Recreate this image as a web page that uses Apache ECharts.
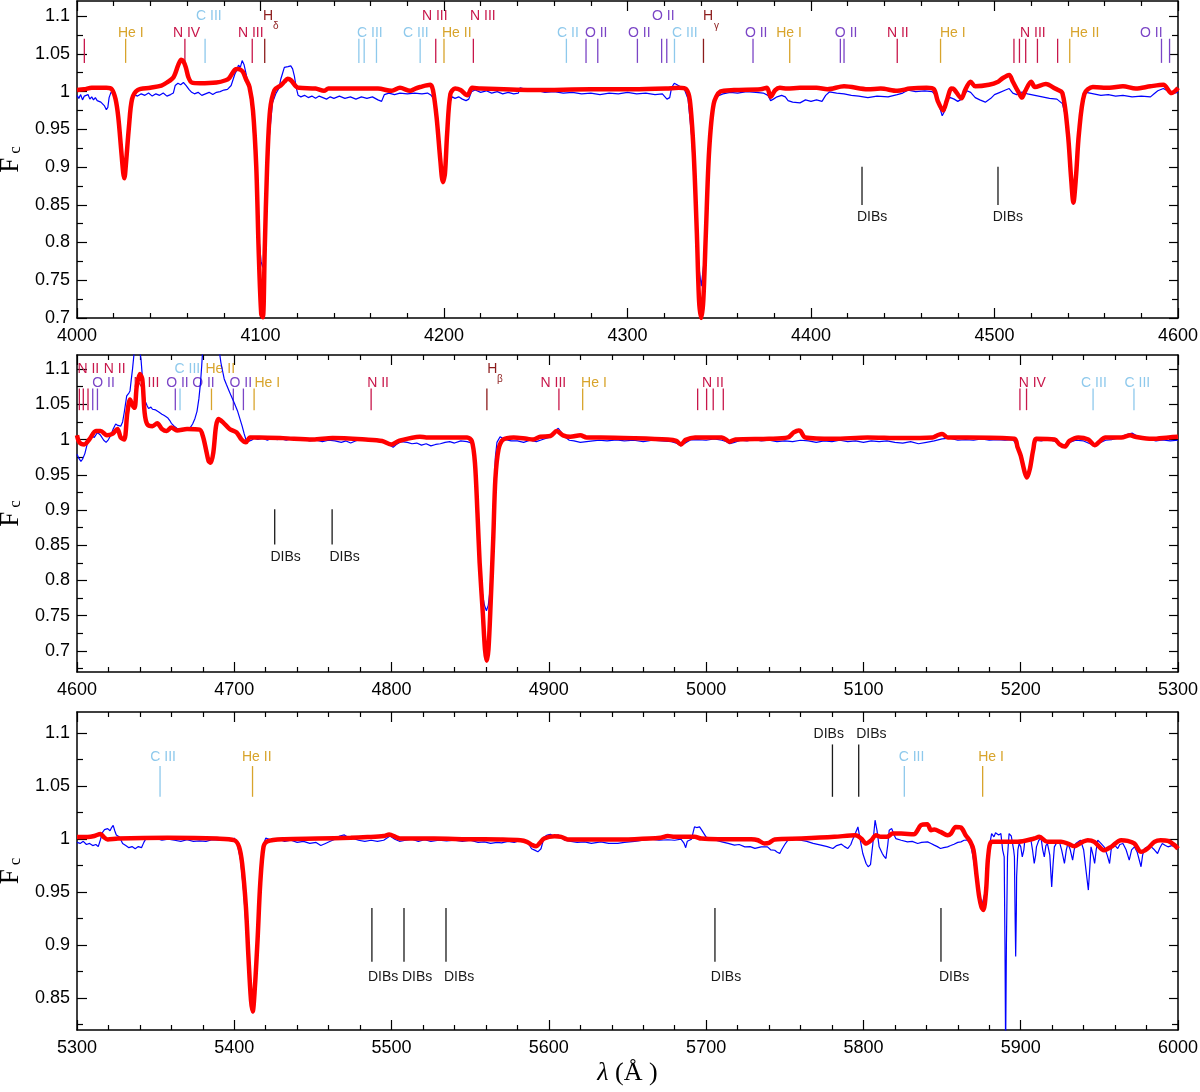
<!DOCTYPE html>
<html><head><meta charset="utf-8">
<style>html,body{margin:0;padding:0;background:#fff}#c{width:1200px;height:1092px}</style>
<script src="https://cdn.jsdelivr.net/npm/echarts/dist/echarts.min.js"></script>
</head><body><div id="c"></div>
<script>
// ---------- panel ranges ----------
const xRanges = [[4000,4600],[4600,5300],[5300,6000]];
const yRanges = [[0.70,1.12],[0.67,1.12],[0.82,1.12]];
const yMajor1 = [0.7,0.75,0.8,0.85,0.9,0.95,1,1.05,1.1];
const yMinor1 = [0.725,0.775,0.825,0.875,0.925,0.975,1.025,1.075];
const yMajor2 = [0.7,0.75,0.8,0.85,0.9,0.95,1,1.05,1.1];
const yMinor2 = [0.675,0.725,0.775,0.825,0.875,0.925,0.975,1.025,1.075];
const yMajor3 = [0.85,0.9,0.95,1,1.05,1.1];
const yMinor3 = [0.825,0.875,0.925,0.975,1.025,1.075];

// ---------- model (red) ----------
const model1 = [[4000,1.002],[4004,1.003],[4008,1.005],[4012,1.005],[4016,1.005],[4019,1.003],[4021,0.99],[4022.5,0.966],[4024,0.925],[4025.2,0.892],[4025.8,0.885],[4026.7,0.905],[4028.3,0.953],[4030,0.99],[4033,1.002],[4040,1.005],[4046,1.008],[4049,1.012],[4052.6,1.019],[4055.3,1.036],[4056.8,1.042],[4058,1.04],[4059.3,1.032],[4060.7,1.019],[4062.5,1.012],[4067,1.011],[4076,1.012],[4081,1.015],[4083,1.018],[4086,1.029],[4087.7,1.030],[4089,1.029],[4090.4,1.026],[4092,1.017],[4094,1.006],[4095.9,0.975],[4097.7,0.90],[4099,0.79],[4100.4,0.705],[4101.3,0.701],[4102.3,0.79],[4103.6,0.90],[4105.2,0.975],[4107.6,1.002],[4111,1.008],[4113,1.013],[4114.8,1.017],[4116.6,1.015],[4119.3,1.007],[4121,1.005],[4130,1.004],[4134.6,1.001],[4137,1.004],[4148,1.004],[4164,1.004],[4171.5,1.001],[4176,1.005],[4181.6,1.001],[4184.4,1.004],[4187,1.006],[4192.5,1.009],[4194,1.002],[4196,0.965],[4198,0.909],[4199.4,0.880],[4200.5,0.891],[4201.7,0.944],[4203.5,0.997],[4206,1.004],[4209,1.002],[4212.7,0.995],[4215.4,1.005],[4220,1.004],[4250,1.002],[4280,1.003],[4303,1.003],[4321,1.004],[4328,1.005],[4332,1.003],[4334,0.988],[4336,0.922],[4337.8,0.812],[4339,0.723],[4340.2,0.700],[4341.3,0.723],[4342.7,0.812],[4344.5,0.922],[4347,0.984],[4350.6,1.0],[4358,1.002],[4372.5,1.003],[4376,1.005],[4378,0.993],[4380.5,1.002],[4383,1.005],[4387,1.004],[4394,1.005],[4403,1.005],[4409,1.003],[4418,1.007],[4431,1.003],[4438,1.004],[4447,1.001],[4454,1.004],[4463,1.005],[4467,1.003],[4469,0.988],[4472,0.975],[4474,0.988],[4476.5,1.004],[4478,1.003],[4482,0.991],[4484,1.002],[4487,1.013],[4489.5,1.007],[4497,1.009],[4502,1.013],[4504,1.017],[4508,1.022],[4510,1.013],[4513,0.9995],[4515,0.992],[4516.5,0.9995],[4520,1.013],[4522,1.006],[4528,1.010],[4533,1.004],[4537,0.998],[4540,0.944],[4541.7,0.887],[4543,0.853],[4544.4,0.887],[4546,0.944],[4549,0.997],[4553.6,1.006],[4562.7,1.005],[4570,1.007],[4577,1.004],[4585,1.007],[4592,1.009],[4596.5,0.998],[4599,1.002],[4600,1.005]];

const model2 = [[4600,1.006],[4601.5,0.996],[4604.6,0.993],[4607.8,1.0],[4612,1.012],[4615,1.012],[4619,1.006],[4622.5,1.008],[4625.7,1.015],[4627.8,1.003],[4630,1.0],[4632,1.038],[4633.7,1.057],[4635,1.05],[4636.6,1.045],[4638,1.076],[4640,1.093],[4641.5,1.086],[4643,1.038],[4644.6,1.022],[4648,1.019],[4651,1.023],[4654,1.015],[4657,1.012],[4660,1.017],[4663.6,1.013],[4670,1.015],[4678,1.014],[4680,1.005],[4682,0.986],[4683.6,0.97],[4685,0.967],[4686.7,0.982],[4688.4,1.019],[4690,1.029],[4693,1.024],[4697,1.015],[4701.5,1.01],[4704.6,1.0],[4707.4,0.996],[4710,1.003],[4716,1.003],[4731,1.002],[4750,1.0],[4762.5,1.002],[4783.6,1.0],[4794,0.998],[4800,0.993],[4804.6,0.998],[4818,1.004],[4822,1.003],[4848,1.003],[4851,0.998],[4853,0.967],[4854.6,0.896],[4856,0.825],[4858,0.754],[4859.4,0.702],[4860.5,0.686],[4861.6,0.702],[4863,0.768],[4864.7,0.863],[4866,0.944],[4868,0.986],[4871,1.0],[4877.6,1.003],[4886,1.001],[4890,1.0],[4894.6,1.004],[4901,1.005],[4905,1.012],[4909,1.006],[4913.6,1.004],[4920,1.006],[4924,1.003],[4933,1.003],[4954,1.002],[4975.6,1.0],[4981,0.998],[4984,0.993],[4987,0.9995],[4993,1.003],[5010,1.003],[5015,0.997],[5018.6,1.0],[5040,1.001],[5052,1.003],[5055.7,1.01],[5058.8,1.013],[5060,1.012],[5063,1.003],[5081,1.001],[5102.6,1.003],[5123.8,1.002],[5144,1.003],[5147,1.006],[5150,1.008],[5153.6,1.003],[5166,1.003],[5196,1.001],[5198,0.989],[5200,0.977],[5202.6,0.953],[5204,0.946],[5205.8,0.958],[5208,0.986],[5210,1.001],[5221.6,1.0],[5224.8,0.993],[5228,0.990],[5231,0.998],[5236.6,1.003],[5243,1.0],[5247,0.992],[5250.5,0.998],[5253.6,1.003],[5264,1.003],[5269.6,1.006],[5272.8,1.004],[5283.4,1.001],[5294,1.003],[5300,1.004]];

const model3 = [[5300,1.002],[5306.8,1.002],[5311,1.003],[5315,1.005],[5317,1.002],[5319.5,0.9997],[5326,1.0006],[5357.6,1.0013],[5389,1.0006],[5400,0.999],[5403,0.993],[5405,0.977],[5407.4,0.936],[5409,0.889],[5410.6,0.8485],[5411.7,0.8375],[5413,0.858],[5414.8,0.905],[5416.5,0.958],[5418.6,0.993],[5421,0.998],[5431.8,1.0],[5453,1.0006],[5474,1.0013],[5484.7,1.002],[5495,1.003],[5498.5,1.0044],[5502.8,1.002],[5506,1.0006],[5527,1.0006],[5548.3,1.0],[5569.5,0.9997],[5582,0.999],[5586,0.9975],[5589.6,0.9944],[5592,0.9934],[5594,0.996],[5597,1.0006],[5603.6,1.0028],[5607.8,1.0022],[5612,0.9997],[5633,0.9997],[5654.5,1.0],[5671,1.0013],[5675.6,1.0031],[5680,1.0022],[5692.6,1.0022],[5697,1.0006],[5707.5,1.0],[5728.7,1.0],[5733,0.999],[5737,0.996],[5740,0.9965],[5743.6,0.9997],[5760.6,1.0006],[5781.6,1.0022],[5795,1.0038],[5798.6,1.0006],[5801.7,0.9959],[5805,0.9991],[5808,1.0038],[5811,1.0022],[5815,1.0022],[5818.6,1.0053],[5824,1.0053],[5832,1.0047],[5836.6,1.0132],[5840.6,1.0141],[5843,1.0085],[5845,1.0091],[5849,1.0069],[5853.5,1.0038],[5855.6,1.0053],[5858.7,1.0116],[5862,1.011],[5865,1.0038],[5868,0.9975],[5870,0.9896],[5872,0.9646],[5873.6,0.9457],[5875,0.9363],[5876.3,0.9332],[5878,0.952],[5879.3,0.9834],[5881.5,0.9975],[5887.4,0.9975],[5898,0.9975],[5908.6,1.0006],[5911.8,1.0022],[5917,0.9975],[5925.6,0.9975],[5930,0.9959],[5934,0.9934],[5939.4,0.9975],[5942.6,0.9991],[5946.8,0.9975],[5953,0.9896],[5957.5,0.9928],[5963.8,0.9991],[5968,0.9984],[5972.3,0.9959],[5976.5,0.9881],[5980.7,0.9912],[5985,0.9975],[5989,0.9991],[5993.6,0.9984],[5997.8,0.9944],[6000,0.991]];

// ---------- observed (blue) ----------
const obs1 = [[4000,0.995],[4001,0.991],[4002,0.996],[4003,0.989],[4004,0.994],[4005,0.992],[4006,0.996],[4007,0.990],[4008,0.993],[4009,0.989],[4010,0.992],[4011,0.988],[4012,0.990],[4013,0.986],[4014,0.984],[4015,0.981],[4016,0.976],[4016.8,0.979],[4017.5,0.992],[4018.5,0.999],[4020,0.997],[4021,0.99],[4022.5,0.965],[4024,0.925],[4025,0.9],[4025.8,0.897],[4027,0.92],[4028.5,0.96],[4030,0.99],[4031,0.996],[4033,0.994],[4035,0.997],[4037,0.995],[4039,0.998],[4041,0.994],[4043,0.997],[4045,0.995],[4047,0.998],[4049,0.994],[4051,0.996],[4052.5,0.998],[4053.5,1.008],[4055,1.011],[4056.5,1.009],[4058,1.012],[4059.5,1.008],[4061,1.003],[4062.5,0.999],[4064,0.997],[4066,0.999],[4068,0.995],[4070,0.997],[4072,0.999],[4074,0.996],[4076,0.999],[4078,1.0],[4080,1.002],[4082,1.003],[4084,1.008],[4086,1.023],[4087,1.028],[4088,1.035],[4089,1.032],[4090,1.041],[4091,1.036],[4092,1.025],[4093,1.014],[4094,1.0],[4095.5,0.975],[4097.3,0.9],[4099,0.81],[4100.3,0.775],[4101.2,0.767],[4102,0.775],[4103.3,0.86],[4104.8,0.94],[4106.5,0.985],[4108.5,0.998],[4110,1.004],[4111,1.016],[4112,1.024],[4113,1.032],[4114,1.034],[4115,1.033],[4116.5,1.034],[4117.5,1.030],[4118.5,1.02],[4119.5,1.005],[4120.5,0.995],[4122,0.993],[4124,0.995],[4126,0.992],[4128,0.994],[4130,0.991],[4132,0.994],[4134,0.992],[4136,0.990],[4138,0.993],[4140,0.991],[4143,0.994],[4146,0.991],[4149,0.993],[4152,0.990],[4155,0.993],[4158,0.991],[4161,0.993],[4164,0.989],[4166,0.987],[4167.5,0.996],[4170,0.998],[4173,0.996],[4176,0.998],[4180,0.997],[4184,0.998],[4188,0.997],[4191,0.998],[4193,0.995],[4194.5,0.99],[4196,0.965],[4198,0.91],[4199.4,0.882],[4200.5,0.893],[4201.7,0.945],[4203,0.985],[4204.5,0.993],[4206,0.991],[4208,0.993],[4210,0.990],[4212,0.988],[4213.5,0.99],[4215,1.0],[4217,1.002],[4220,0.999],[4223,1.001],[4226,0.998],[4229,1.0],[4232,0.997],[4235,0.999],[4238,0.997],[4240.5,0.998],[4241.5,1.005],[4243,1.004],[4246,1.001],[4250,1.002],[4255,0.999],[4260,1.0],[4265,0.998],[4270,0.999],[4275,0.997],[4280,0.998],[4285,0.996],[4290,0.998],[4295,0.997],[4300,0.999],[4305,0.997],[4310,0.998],[4315,0.996],[4319,0.997],[4321.5,0.99],[4323,0.992],[4324,1.005],[4325.5,1.011],[4327,1.009],[4329,1.006],[4331,1.003],[4333,0.99],[4335,0.94],[4337,0.85],[4338.8,0.77],[4340.2,0.742],[4341.5,0.77],[4343,0.85],[4345,0.94],[4347,0.985],[4349,0.994],[4352,0.997],[4356,0.999],[4360,0.998],[4365,1.0],[4370,0.999],[4374,0.998],[4376.5,0.995],[4378,0.988],[4379.5,0.99],[4381.5,0.993],[4384,0.995],[4386,0.993],[4387.5,0.988],[4390,0.986],[4394,0.985],[4397,0.989],[4400,0.987],[4403,0.989],[4406,0.987],[4408,0.995],[4410,0.9995],[4414,0.998],[4418,0.997],[4422,0.995],[4426,0.994],[4431,0.992],[4436,0.994],[4442,0.993],[4447,0.996],[4450,0.998],[4453,1.002],[4457,1.0],[4462,1.001],[4466,1.0],[4468,0.995],[4470,0.98],[4471.5,0.968],[4473,0.975],[4474.5,0.991],[4476,0.992],[4478,0.99],[4480,0.987],[4482,0.99],[4485,1.001],[4487,0.999],[4489.5,0.992],[4492,0.989],[4495,0.986],[4498,0.991],[4500,0.996],[4503,0.999],[4506,1.002],[4508,1.004],[4510,0.998],[4512,0.996],[4515,0.9995],[4518,0.997],[4522,0.995],[4526,0.993],[4530,0.991],[4534,0.990],[4537,0.984],[4539,0.965],[4541,0.905],[4543,0.85],[4544.5,0.885],[4546.5,0.955],[4548.5,0.99],[4550,0.999],[4554,0.997],[4558,0.995],[4562,0.996],[4566,0.994],[4570,0.995],[4575,0.993],[4580,0.994],[4585,0.993],[4587,0.997],[4589,1.001],[4592,1.004],[4595,1.0],[4598,0.998],[4600,0.999]];

const obs2 = [[4600,0.979],[4601,0.974],[4602.5,0.969],[4603.5,0.972],[4605,0.98],[4607,0.998],[4609,1.005],[4611,1.003],[4613,1.01],[4615,1.006],[4617,0.999],[4618.5,0.996],[4620,1.0],[4621.5,1.006],[4623,1.015],[4624.6,1.022],[4626,1.02],[4627.8,1.019],[4629,1.025],[4630,1.038],[4631.6,1.062],[4633,1.066],[4633.7,1.069],[4634.5,1.085],[4635.3,1.1],[4636.4,1.125],[4638,1.14],[4639.5,1.13],[4640.7,1.114],[4642,1.076],[4643.2,1.055],[4644.6,1.048],[4645.5,1.044],[4647,1.046],[4648,1.043],[4649,1.045],[4650,1.042],[4651,1.043],[4652,1.039],[4653,1.040],[4654,1.036],[4655.5,1.034],[4656.5,1.035],[4657.6,1.031],[4659,1.027],[4660,1.023],[4661.8,1.019],[4663.5,1.016],[4666,1.015],[4668,1.013],[4670,1.014],[4672,1.017],[4673.5,1.022],[4675,1.03],[4676.3,1.04],[4677.5,1.058],[4678.5,1.08],[4679.3,1.105],[4680,1.13],[4682,1.2],[4684,1.26],[4686,1.28],[4688,1.25],[4689.5,1.18],[4690.5,1.125],[4691.5,1.109],[4692.5,1.098],[4693.6,1.086],[4695,1.078],[4696.5,1.07],[4698,1.062],[4700,1.052],[4702,1.041],[4703.5,1.03],[4705,1.019],[4706.3,1.008],[4707.4,1.0],[4708.5,0.997],[4709.5,0.996],[4711,0.999],[4712.6,1.002],[4715,1.0],[4718,1.002],[4721,0.999],[4724,1.002],[4727,1.0],[4730,1.001],[4733,0.999],[4736,1.001],[4740,0.999],[4744,1.0],[4748,0.998],[4752,0.999],[4756,0.997],[4760,0.999],[4764,0.998],[4768,0.996],[4771,0.998],[4774,0.995],[4777,0.998],[4780,1.0],[4784,1.001],[4788,0.999],[4792,1.0],[4796,0.997],[4799,0.992],[4801,0.989],[4803,0.993],[4806,0.997],[4810,0.996],[4813,0.994],[4816,0.995],[4819,0.992],[4822,0.994],[4825,0.991],[4828,0.993],[4831,0.994],[4834,0.996],[4837,0.997],[4840,0.995],[4844,0.998],[4848,0.997],[4851,0.995],[4853,0.965],[4854.6,0.9],[4856,0.835],[4857.5,0.785],[4859,0.765],[4860.3,0.757],[4861.5,0.765],[4862.8,0.79],[4864,0.85],[4865,0.92],[4866,0.975],[4867,0.996],[4869,1.004],[4872,1.0],[4876,0.998],[4880,0.998],[4884,0.996],[4888,0.999],[4892,0.997],[4896,1.0],[4900,1.003],[4903,1.01],[4906,1.016],[4908,1.01],[4910,1.004],[4913,0.999],[4916,0.998],[4920,0.996],[4924,0.997],[4928,0.998],[4932,0.999],[4937,0.998],[4943,0.9995],[4948,0.998],[4954,0.999],[4960,0.997],[4966,0.999],[4972,0.998],[4978,0.997],[4981,0.995],[4984,0.991],[4986,0.994],[4990,0.9995],[4995,1.0],[5000,0.999],[5005,1.001],[5010,0.999],[5013,0.997],[5015,0.994],[5018,0.996],[5022,0.999],[5026,0.998],[5030,1.0],[5035,0.998],[5040,0.999],[5045,0.997],[5050,0.998],[5055,0.997],[5060,0.999],[5065,0.998],[5070,0.996],[5075,0.998],[5080,0.997],[5085,0.999],[5090,0.997],[5095,0.998],[5100,0.996],[5105,0.998],[5110,0.997],[5115,0.998],[5120,0.996],[5125,0.995],[5130,0.997],[5135,0.994],[5140,0.996],[5145,0.998],[5150,1.001],[5155,1.002],[5160,0.999],[5165,1.0],[5170,0.999],[5175,1.001],[5180,0.999],[5185,1.0],[5190,0.999],[5195,1.0],[5198,0.99],[5200,0.978],[5202.6,0.955],[5204,0.948],[5205.8,0.96],[5208,0.988],[5210,0.999],[5213,0.998],[5217,1.0],[5221,0.998],[5225,0.994],[5228,0.991],[5231,0.996],[5235,0.999],[5240,0.998],[5244,0.994],[5247,0.991],[5250,0.995],[5254,0.999],[5258,1.0],[5262,1.002],[5266,1.006],[5269,1.008],[5271,1.009],[5274,1.005],[5278,1.002],[5282,1.0],[5286,0.998],[5290,0.9995],[5295,0.998],[5300,0.999]];

const obs3 = [[5300,0.997],[5302,0.996],[5304,0.998],[5306,0.995],[5308,0.996],[5310,0.994],[5312,0.995],[5313.5,0.993],[5315,1.0],[5316,1.006],[5317.5,1.009],[5319.5,1.01],[5321,1.008],[5322,1.011],[5323,1.013],[5324,1.008],[5325,1.004],[5327,1.002],[5329,0.996],[5331,0.994],[5333,0.992],[5335,0.993],[5337,0.991],[5339,0.993],[5341,0.992],[5342.5,0.997],[5344,1.001],[5347,1.0],[5350,1.001],[5354,0.999],[5358,1.0],[5362,0.999],[5366,0.998],[5370,0.9995],[5374,0.998],[5378,0.9985],[5382,0.998],[5386,0.9995],[5390,0.999],[5394,1.0],[5398,0.999],[5400,1.001],[5402,0.995],[5404,0.98],[5406,0.95],[5408,0.905],[5409.5,0.865],[5410.8,0.84],[5411.7,0.836],[5412.8,0.845],[5414,0.88],[5415.5,0.935],[5417,0.975],[5418.5,0.995],[5420,1.001],[5424,0.999],[5428,1.0],[5432,0.998],[5436,0.999],[5440,0.997],[5444,0.998],[5448,0.996],[5452,0.997],[5455,0.994],[5458,0.996],[5461,0.998],[5464,1.0],[5467,1.003],[5470,1.004],[5472,1.002],[5475,1.001],[5479,0.999],[5483,0.998],[5487,0.999],[5491,0.998],[5495,0.999],[5499,1.003],[5502,1.0],[5505,0.998],[5509,0.999],[5513,1.0],[5517,0.998],[5521,0.9995],[5525,0.998],[5530,0.999],[5535,0.9985],[5540,0.999],[5545,0.998],[5550,0.999],[5555,0.997],[5559,0.9975],[5563,0.996],[5567,0.997],[5570,0.9965],[5574,0.998],[5578,0.997],[5582,0.999],[5585,0.998],[5587,0.996],[5589,0.991],[5591,0.9897],[5593,0.9881],[5595,0.991],[5597,1.002],[5599,1.004],[5601,1.0047],[5603,1.003],[5606,1.004],[5608,1.002],[5610,0.999],[5614,0.998],[5618,0.997],[5622.7,0.9975],[5627,0.996],[5633,0.9975],[5638,0.996],[5643.8,0.996],[5648,0.997],[5654.5,0.998],[5660,0.999],[5665,1.0],[5670,0.999],[5675.6,0.9995],[5680,0.999],[5684,1.0],[5686,0.996],[5687,0.992],[5688,0.998],[5690.7,1.0],[5692,1.008],[5692.6,1.0116],[5694,1.011],[5695.8,1.0116],[5697,1.009],[5698,1.008],[5700,1.002],[5703,1.0],[5706,0.999],[5710,0.9975],[5714,0.996],[5718,0.9944],[5721,0.995],[5724.6,0.9928],[5728,0.993],[5731,0.9913],[5735,0.9928],[5739,0.9928],[5741,0.99],[5743.6,0.9896],[5745,0.988],[5746.8,0.9865],[5748,0.99],[5750,0.995],[5752,0.9991],[5756,1.0],[5760,0.999],[5764,0.998],[5768,0.996],[5773,0.9944],[5777,0.993],[5780.6,0.9912],[5783,0.994],[5786,0.9953],[5788,0.993],[5790,0.9912],[5792,0.995],[5793,0.9991],[5795,1.006],[5796.5,1.0116],[5797.3,1.005],[5798,0.9991],[5799.6,0.9865],[5801.7,0.9771],[5803,0.974],[5804.5,0.976],[5806,0.9959],[5807.4,1.0179],[5808.6,1.0085],[5810,0.9928],[5812,0.9865],[5813,0.984],[5814.3,0.9818],[5815.5,0.995],[5816.4,1.0085],[5818,1.01],[5819.5,1.004],[5820.6,1.0006],[5824,0.999],[5828,0.9975],[5831,0.998],[5834.5,0.9959],[5837,0.997],[5840.8,0.9975],[5843,0.996],[5845,0.9944],[5847,0.993],[5849,0.9912],[5851,0.992],[5853.5,0.9928],[5855.5,0.994],[5857.6,0.9953],[5860,0.997],[5862,0.9975],[5864,0.999],[5866,0.9991],[5868,0.9959],[5869.5,0.985],[5871.4,0.9677],[5872.8,0.952],[5874,0.9426],[5875.6,0.9395],[5877,0.948],[5878,0.9583],[5879,0.975],[5880,0.9928],[5881.5,1.0053],[5883,1.0022],[5884,1.006],[5885,1.0069],[5886,1.004],[5887.4,1.0053],[5888.5,0.99],[5889.5,0.9834],[5890,0.90],[5890.4,0.80],[5890.9,0.90],[5891.6,0.9834],[5892.6,1.0053],[5894,1.003],[5894.7,1.0022],[5895.5,0.99],[5896,0.9834],[5896.5,0.92],[5896.8,0.8893],[5897.2,0.93],[5897.4,0.9646],[5898.2,0.99],[5899,0.9959],[5900,0.993],[5901,0.9834],[5902,0.99],[5902.5,0.9975],[5904,0.999],[5906.5,0.9991],[5907.5,0.99],[5908.6,0.9771],[5909.5,0.985],[5910,0.9928],[5911.5,0.999],[5913,1.0006],[5914,0.99],[5915,0.9834],[5916,0.994],[5917,0.9959],[5918.5,0.985],[5919.7,0.955],[5920.5,0.975],[5921.4,0.9928],[5923,0.997],[5924.6,0.9975],[5926,0.99],[5927.8,0.9771],[5929,0.99],[5930,0.9959],[5931.5,0.99],[5933,0.9803],[5934,0.99],[5935,0.9959],[5938,0.9991],[5940,0.99],[5941.5,0.9708],[5943,0.952],[5944,0.975],[5944.7,0.9928],[5946,0.985],[5947,0.9771],[5948,0.99],[5949,0.9991],[5951,0.996],[5953,0.9928],[5955,0.985],[5956.5,0.9771],[5957.5,0.99],[5958.6,0.9959],[5960,0.994],[5961.7,0.9912],[5963,0.995],[5965,0.9959],[5967,0.99],[5969,0.9803],[5970.5,0.99],[5972.3,0.9928],[5974,0.988],[5976.5,0.974],[5977.5,0.985],[5978.7,0.9912],[5981,0.993],[5983,0.9928],[5985,0.99],[5987,0.9865],[5988.5,0.992],[5990,0.9959],[5992,0.994],[5993.6,0.9928],[5996,0.994],[5998,0.9928],[6000,0.991]];

// ---------- line identifications: [wavelength, ion group] ----------
const lines1 = [[4004,'N'],[4026.5,'He'],[4058.8,'N'],[4069.8,'C'],[4095.5,'N'],[4102.3,'H'],[4153.6,'C'],[4156.5,'C'],[4163.2,'C'],[4187,'C'],[4195.5,'N'],[4200,'He'],[4216,'N'],[4266.7,'C'],[4277.4,'O'],[4283.8,'O'],[4305.4,'O'],[4318.6,'O'],[4321.4,'O'],[4325.6,'C'],[4341.4,'H'],[4368.4,'O'],[4388.4,'He'],[4416,'O'],[4418,'O'],[4447,'N'],[4470.6,'He'],[4510.6,'N'],[4513.6,'N'],[4517,'N'],[4523.4,'N'],[4534.4,'N'],[4541,'He'],[4591,'O'],[4595.4,'O']];
const lines2 = [[4601.5,'N'],[4604,'N'],[4607,'N'],[4610,'O'],[4613,'O'],[4662.5,'O'],[4665.5,'C'],[4685.5,'He'],[4699.4,'O'],[4705.8,'O'],[4712.6,'He'],[4787,'N'],[4860.6,'H'],[4906.4,'N'],[4921.5,'He'],[4994.6,'N'],[5000.3,'N'],[5004.5,'N'],[5010.9,'N'],[5199.5,'N'],[5203.7,'N'],[5246,'C'],[5272,'C']];
const lines3 = [[5352.8,'C'],[5411.6,'He'],[5826,'C'],[5875.8,'He']];

// labels: [text, wavelength at text start, row, ion group]
const labels1 = [['He I',4022.3,'L','He'],['N IV',4052.3,'L','N'],['C III',4064.9,'U','C'],['N III',4087.7,'L','N'],['H',4101.4,'U','H'],['δ',4106.8,'S','H'],['C III',4152.6,'L','C'],['C III',4177.7,'L','C'],['N III',4188,'U','N'],['He II',4198.9,'L','He'],['N III',4214.2,'U','N'],['C II',4261.6,'L','C'],['O II',4276.8,'L','O'],['O II',4300.3,'L','O'],['O II',4313.4,'U','O'],['C III',4324.3,'L','C'],['H',4341.1,'U','H'],['γ',4347.1,'S','H'],['O II',4364,'L','O'],['He I',4381,'L','He'],['O II',4413,'L','O'],['N II',4441.4,'L','N'],['He I',4470.3,'L','He'],['N III',4513.9,'L','N'],['He II',4541.1,'L','He'],['O II',4579.3,'L','O'],['DIBs',4425,'D','D'],['DIBs',4499,'D','D']];
const labels2 = [['N II',4600.3,'U','N'],['N II',4617,'U','N'],['O II',4609.7,'L','O'],['N III',4636,'L','N'],['O II',4656.7,'L','O'],['C III',4662,'U','C'],['O II',4673.2,'L','O'],['He II',4681.7,'U','He'],['O II',4697,'L','O'],['He I',4712.8,'L','He'],['N II',4784.5,'L','N'],['H',4860.8,'U','H'],['β',4867,'S','H'],['N III',4894.7,'L','N'],['He I',4920.5,'L','He'],['N II',4997.4,'L','N'],['N IV',5198.7,'L','N'],['C III',5238.4,'L','C'],['C III',5266,'L','C'],['DIBs',4723,'D','D'],['DIBs',4760.5,'D','D']];
const labels3 = [['C III',5346.6,'L','C'],['He II',5404.9,'L','He'],['C III',5822.4,'L','C'],['He I',5873,'L','He'],['DIBs',5768.3,'U','D'],['DIBs',5795.4,'U','D'],['DIBs',5485,'D','D'],['DIBs',5506.6,'D','D'],['DIBs',5533.3,'D','D'],['DIBs',5703,'D','D'],['DIBs',5848,'D','D']];

// diffuse interstellar bands
const dibs1 = [4427.8,4501.9];
const dibs2 = [4725.7,4762.2];
const dibs3 = [5487.5,5507.9,5534.6,5705.6,5849.3];
const dibs3Top = [5780.3,5797];

// ---------- styling / layout ----------
const COL = {N:'#c8174b', He:'#d8a42c', C:'#8ec9ec', O:'#7b45c6', H:'#8c1c1c', D:'#1a1a1a'};
const ROWS = [
  {U:1.0995, L:1.077, S:1.0862, D:0.834, seg:[1.038,1.070], dib:[0.8497,0.9004]},
  {U:1.0999, L:1.080, S:1.0857, D:0.8334, seg:[1.0417,1.0724], dib:[0.851,0.901]},
  {U:1.0994, L:1.0774, S:1.07, D:0.870, seg:[1.040,1.069], dib:[0.8845,0.935], dibTop:[1.040,1.0894]}
];
const GRIDS = [{top:1,height:317},{top:355,height:317},{top:712,height:318}];
const FONT = '"Liberation Sans", Arial, Helvetica, sans-serif';
const SERIF = '"Liberation Serif", "DejaVu Serif", serif';

const panels = [
  {obs:obs1, model:model1, lines:lines1, labels:labels1, dibs:dibs1, maj:yMajor1, min:yMinor1},
  {obs:obs2, model:model2, lines:lines2, labels:labels2, dibs:dibs2, maj:yMajor2, min:yMinor2},
  {obs:obs3, model:model3, lines:lines3, labels:labels3, dibs:dibs3, maj:yMajor3, min:yMinor3, dibsTop:dibs3Top}
];

const axisLineStyle = {color:'#000', width:1.5};
const tickStyle = {color:'#000', width:1.2};

const grid = [], xAxis = [], yAxis = [], series = [];

panels.forEach((P, p) => {
  grid.push({left:77, width:1101, top:GRIDS[p].top, height:GRIDS[p].height,
    containLabel:false, outerBoundsMode:'none'});
  const xb = {type:'value', gridIndex:p, min:xRanges[p][0], max:xRanges[p][1], interval:100,
    splitLine:{show:false}, minorSplitLine:{show:false},
    axisLine:{show:true, onZero:false, lineStyle:axisLineStyle},
    axisTick:{show:true, inside:true, length:10, lineStyle:tickStyle},
    minorTick:{show:true, splitNumber:5, length:5, lineStyle:tickStyle}};
  const bottom = Object.assign({}, xb, {position:'bottom',
    axisLabel:{show:true, fontSize:18, color:'#000', fontFamily:FONT, margin:9, formatter:v => String(v)}});
  if (p === 2) {
    Object.assign(bottom, {name:'{l|λ} (Å )', nameLocation:'middle', nameGap:30,
      nameTextStyle:{fontFamily:SERIF, fontSize:26, color:'#000',
        rich:{l:{fontFamily:SERIF, fontSize:26, fontStyle:'italic', color:'#000'}}}});
  }
  xAxis.push(bottom);
  xAxis.push(Object.assign({}, xb, {position:'top', axisLabel:{show:false}}));

  const yb = {type:'value', gridIndex:p, min:yRanges[p][0], max:yRanges[p][1], splitLine:{show:false}};
  yAxis.push(Object.assign({}, yb, {position:'left',
    axisLine:{show:true, onZero:false, lineStyle:axisLineStyle},
    axisTick:{show:true, inside:true, length:10, customValues:P.maj, lineStyle:tickStyle},
    axisLabel:{show:true, customValues:P.maj, fontSize:18, color:'#000', fontFamily:FONT, margin:7, formatter:v => String(v)},
    name:'{f|F}{c|c}', nameLocation:'middle', nameGap:52, nameRotate:90,
    nameTextStyle:{rich:{
      f:{fontFamily:SERIF, fontSize:27, color:'#000', lineHeight:27, verticalAlign:'top'},
      c:{fontFamily:SERIF, fontSize:17, color:'#000', lineHeight:17, padding:[15,0,0,4], verticalAlign:'bottom'}}}}));
  yAxis.push(Object.assign({}, yb, {position:'left', axisLine:{show:false, onZero:false},
    axisTick:{show:true, inside:true, length:6, customValues:P.min, lineStyle:tickStyle}, axisLabel:{show:false}}));
  yAxis.push(Object.assign({}, yb, {position:'right', axisLine:{show:true, onZero:false, lineStyle:axisLineStyle},
    axisTick:{show:true, inside:true, length:9, customValues:P.maj, lineStyle:tickStyle}, axisLabel:{show:false}}));
  yAxis.push(Object.assign({}, yb, {position:'right', axisLine:{show:false, onZero:false},
    axisTick:{show:true, inside:true, length:6, customValues:P.min, lineStyle:tickStyle}, axisLabel:{show:false}}));

  const xi = 2*p, yi = 4*p, R = ROWS[p];

  // identification marks
  const segs = P.lines.map(l => [l[0], R.seg[0], R.seg[1], l[1]]);
  P.dibs.forEach(d => segs.push([d, R.dib[0], R.dib[1], 'D']));
  if (P.dibsTop) P.dibsTop.forEach(d => segs.push([d, R.dibTop[0], R.dibTop[1], 'D']));
  series.push({type:'custom', xAxisIndex:xi, yAxisIndex:yi, silent:true, z:2,
    data: segs.map(s => [s[0], s[1], s[2]]),
    encode:{x:0, y:[1,2]},
    renderItem:(params, api) => {
      const s = segs[params.dataIndex];
      const a = api.coord([api.value(0), api.value(1)]);
      const b = api.coord([api.value(0), api.value(2)]);
      return {type:'line', shape:{x1:a[0], y1:a[1], x2:b[0], y2:b[1]},
        style:{stroke:COL[s[3]], lineWidth:1.3}};
    }});

  // identification texts
  const labs = P.labels;
  series.push({type:'custom', xAxisIndex:xi, yAxisIndex:yi, silent:true, z:2,
    data: labs.map(l => [l[1], R[l[2]]]),
    encode:{x:0, y:1},
    renderItem:(params, api) => {
      const l = labs[params.dataIndex];
      const a = api.coord([api.value(0), api.value(1)]);
      const fs = l[2] === 'S' ? 10 : 14;
      return {type:'text', x:a[0], y:a[1],
        style:{text:l[0], fill:COL[l[3]], font:fs + 'px ' + FONT, align:'left', verticalAlign:'middle'}};
    }});

  series.push({type:'line', xAxisIndex:xi, yAxisIndex:yi, data:P.obs, showSymbol:false, symbol:'none',
    lineStyle:{color:'#0000ff', width:1.2}, z:3, clip:true, silent:true});
  series.push({type:'line', xAxisIndex:xi, yAxisIndex:yi, data:P.model, showSymbol:false, symbol:'none',
    smooth:0.3, lineStyle:{color:'#ff0000', width:4.5}, z:4, clip:true, silent:true});
});

const chart = echarts.init(document.getElementById('c'), null, {renderer:'canvas'});
chart.setOption({animation:false, backgroundColor:'#fff', grid, xAxis, yAxis, series});
</script>
</body></html>
